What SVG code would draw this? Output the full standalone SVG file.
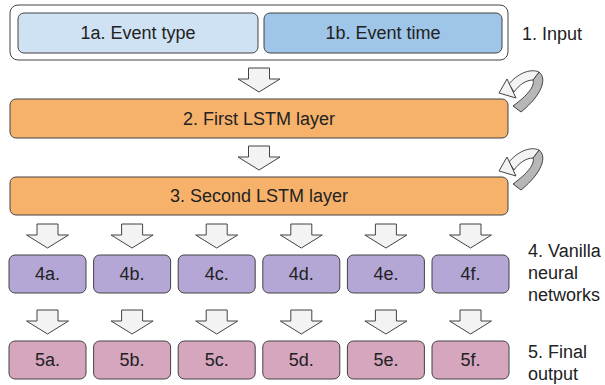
<svg xmlns="http://www.w3.org/2000/svg" width="605" height="385" viewBox="0 0 605 385">
<style>
text{font-family:"Liberation Sans",Arial,sans-serif;font-size:18px;fill:#222}
.c{text-anchor:middle;dominant-baseline:central}
.box{stroke:#434343;stroke-width:1}
.arr{fill:#f3f3f3;stroke:#434343;stroke-width:1;stroke-linejoin:miter}
.grey{fill:#b7b7b7;stroke:#434343;stroke-width:1}
</style>
<defs>
<path id="down" class="arr" d="M-10.5,0 H10.5 V11 H21 L0,24 L-21,11 H-10.5 Z"/>
<g id="loop">
<path class="grey" d="M539,72 C547,78 543,94 521,112 L513,106 C528,95 535,86 533,80 Z"/>
<path class="arr" d="M509,84 C517,74 530,68 539,72 L533,80 C526,80 519,85 514,92 Z"/>
<path class="arr" d="M507,79 L499,93 L516,98 Z"/>
</g>
</defs>

<g id="input">
<rect x="10" y="5" width="498" height="55" rx="8" fill="#fff" class="box"/>
<text x="522" y="34" style="dominant-baseline:central">1. Input</text>
</g>
<g id="n1a">
<rect x="18" y="13" width="240" height="40" rx="6" fill="#cfe2f3" class="box"/>
<text class="c" x="138" y="33">1a. Event type</text>
</g>
<g id="n1b">
<rect x="264" y="13" width="238" height="40" rx="6" fill="#9fc5e8" class="box"/>
<text class="c" x="383" y="33">1b. Event time</text>
</g>
<g id="n2">
<rect x="10" y="99" width="498" height="39" rx="6" fill="#f6b26b" class="box"/>
<text class="c" x="259" y="118.5">2. First LSTM layer</text>
</g>
<g id="n3">
<rect x="10" y="177" width="498" height="38" rx="6" fill="#f6b26b" class="box"/>
<text class="c" x="259" y="196">3. Second LSTM layer</text>
</g>

<g id="n4a"><rect x="9" y="255" width="77" height="38" rx="6" fill="#b4a7d6" class="box"/><text class="c" x="47.5" y="274">4a.</text></g>
<g id="n4b"><rect x="93.6" y="255" width="77" height="38" rx="6" fill="#b4a7d6" class="box"/><text class="c" x="132.1" y="274">4b.</text></g>
<g id="n4c"><rect x="178.2" y="255" width="77" height="38" rx="6" fill="#b4a7d6" class="box"/><text class="c" x="216.7" y="274">4c.</text></g>
<g id="n4d"><rect x="262.8" y="255" width="77" height="38" rx="6" fill="#b4a7d6" class="box"/><text class="c" x="301.3" y="274">4d.</text></g>
<g id="n4e"><rect x="347.4" y="255" width="77" height="38" rx="6" fill="#b4a7d6" class="box"/><text class="c" x="385.9" y="274">4e.</text></g>
<g id="n4f"><rect x="432" y="255" width="77" height="38" rx="6" fill="#b4a7d6" class="box"/><text class="c" x="470.5" y="274">4f.</text></g>
<g id="label4">
<text x="528" y="257">4. Vanilla</text>
<text x="528" y="279">neural</text>
<text x="528" y="301">networks</text>
</g>

<g id="n5a"><rect x="9" y="341" width="77" height="38" rx="6" fill="#d5a6bd" class="box"/><text class="c" x="47.5" y="360">5a.</text></g>
<g id="n5b"><rect x="93.6" y="341" width="77" height="38" rx="6" fill="#d5a6bd" class="box"/><text class="c" x="132.1" y="360">5b.</text></g>
<g id="n5c"><rect x="178.2" y="341" width="77" height="38" rx="6" fill="#d5a6bd" class="box"/><text class="c" x="216.7" y="360">5c.</text></g>
<g id="n5d"><rect x="262.8" y="341" width="77" height="38" rx="6" fill="#d5a6bd" class="box"/><text class="c" x="301.3" y="360">5d.</text></g>
<g id="n5e"><rect x="347.4" y="341" width="77" height="38" rx="6" fill="#d5a6bd" class="box"/><text class="c" x="385.9" y="360">5e.</text></g>
<g id="n5f"><rect x="432" y="341" width="77" height="38" rx="6" fill="#d5a6bd" class="box"/><text class="c" x="470.5" y="360">5f.</text></g>
<g id="label5">
<text x="528" y="358">5. Final</text>
<text x="528" y="380">output</text>
</g>

<g id="connectors">
<use href="#down" x="259" y="68"/>
<use href="#down" x="259" y="146"/>
<use href="#loop"/>
<use href="#loop" y="78"/>
<use href="#down" x="47.5" y="224"/>
<use href="#down" x="132.1" y="224"/>
<use href="#down" x="216.7" y="224"/>
<use href="#down" x="301.3" y="224"/>
<use href="#down" x="385.9" y="224"/>
<use href="#down" x="470.5" y="224"/>
<use href="#down" x="47.5" y="310"/>
<use href="#down" x="132.1" y="310"/>
<use href="#down" x="216.7" y="310"/>
<use href="#down" x="301.3" y="310"/>
<use href="#down" x="385.9" y="310"/>
<use href="#down" x="470.5" y="310"/>
</g>
</svg>
